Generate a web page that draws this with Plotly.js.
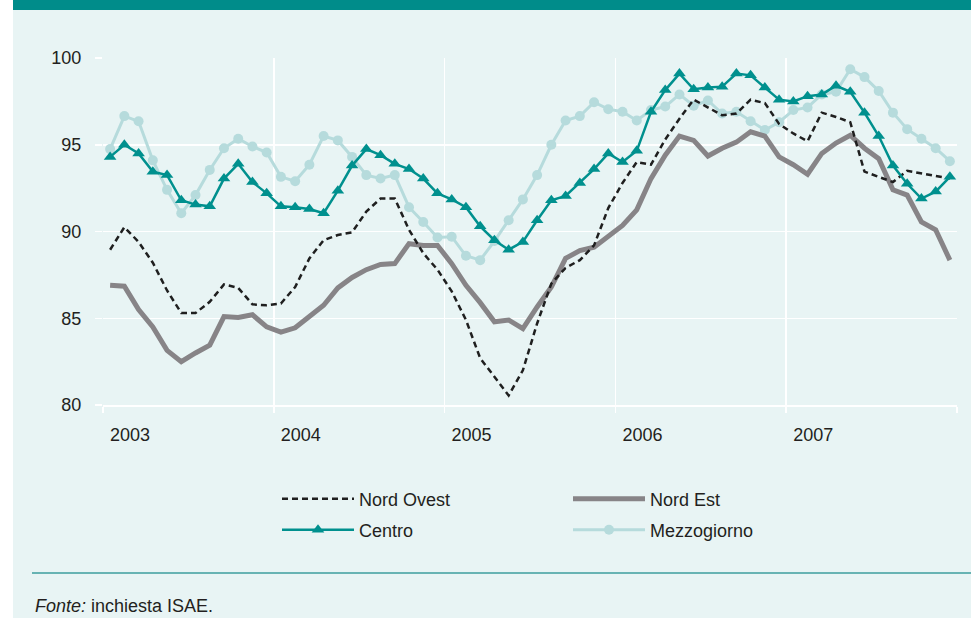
<!DOCTYPE html>
<html>
<head>
<meta charset="utf-8">
<script src="https://cdn.plot.ly/plotly-3.0.1.min.js"></script>
<style>
html,body{margin:0;padding:0;background:#ffffff;}
#chart{position:absolute;left:13px;top:0;width:958px;height:618px;}
</style>
</head>
<body>
<div id="chart"></div>
<script>
// ---- data (monthly, Jan 2003 - Dec 2007) ----
const years = ['2003','2004','2005','2006','2007'];
const months = [];
years.forEach(y => { for (let m = 1; m <= 12; m++) months.push(y + '-' + String(m).padStart(2,'0')); });

const nordOvest = [88.95,90.25,89.4,88.2,86.6,85.3,85.3,85.95,86.95,86.75,85.8,85.75,
                   85.85,86.8,88.45,89.5,89.8,89.95,91.15,91.9,91.9,90.1,88.75,87.8,
                   86.55,84.9,82.7,81.6,80.55,82.0,84.7,87.0,87.9,88.35,89.2,91.35,
                   92.8,94.0,93.85,95.3,96.5,97.6,97.15,96.7,96.8,97.6,97.4,96.2,
                   95.65,95.2,96.85,96.6,96.3,93.45,93.15,92.85,93.5,93.35,93.2,93.05];
const nordEst = [86.9,86.85,85.5,84.5,83.15,82.5,83.0,83.45,85.1,85.05,85.2,84.5,
                 84.2,84.45,85.1,85.75,86.75,87.35,87.8,88.1,88.15,89.3,89.2,89.2,
                 88.15,86.9,85.9,84.8,84.9,84.4,85.65,86.8,88.45,88.9,89.1,89.7,
                 90.35,91.25,93.05,94.4,95.5,95.25,94.35,94.8,95.15,95.75,95.5,94.3,
                 93.85,93.3,94.5,95.1,95.55,94.8,94.2,92.4,92.1,90.55,90.1,88.35];
const centro = [94.3,95.0,94.5,93.45,93.25,91.8,91.55,91.45,93.05,93.9,92.85,92.2,
                91.45,91.4,91.3,91.05,92.35,93.8,94.75,94.4,93.9,93.6,93.05,92.2,
                91.85,91.4,90.3,89.5,88.95,89.4,90.65,91.8,92.05,92.8,93.6,94.5,
                94.0,94.65,96.9,98.15,99.1,98.2,98.3,98.35,99.1,99.0,98.3,97.6,
                97.5,97.8,97.9,98.4,98.05,96.85,95.5,93.8,92.75,91.9,92.3,93.15];
const mezzogiorno = [94.75,96.65,96.35,94.1,92.4,91.05,92.1,93.55,94.8,95.35,94.9,94.55,
                     93.15,92.9,93.85,95.5,95.25,94.3,93.25,93.05,93.25,91.4,90.55,89.65,
                     89.7,88.6,88.35,89.45,90.65,91.85,93.25,95.0,96.4,96.65,97.45,97.05,
                     96.9,96.4,97.0,97.2,97.9,97.25,97.55,96.8,96.9,96.35,95.85,96.3,
                     97.0,97.15,97.9,98.05,99.35,98.9,98.1,96.85,95.9,95.35,94.8,94.05];
const yTicks = [80,85,90,95,100];

// ---- geometry helpers (page px -> paper) ----
const PL = 103, PR = 957, PT = 58, PB = 405;
const W = PR - PL, H = PB - PT;
const xp = px => (px - PL) / W;
const yp = py => (PB - py) / H;

const xIdx = months.map((m, i) => i);
const yearStarts = years.map((y, i) => i * 12 - 0.5);

const FONT = 'Liberation Sans, Arial, Helvetica, sans-serif';
const TXT = '#231f20';

const traces = [
  {x: xIdx, y: mezzogiorno, name: 'Mezzogiorno', type: 'scatter', mode: 'lines+markers',
   line: {color: '#b6dbdc', width: 3}, marker: {symbol: 'circle', size: 10, color: '#b6dbdc'},
   legend: 'legend2', legendrank: 2},
  {x: xIdx, y: nordEst, name: 'Nord Est', type: 'scatter', mode: 'lines',
   line: {color: '#878487', width: 5}, legend: 'legend', legendrank: 2},
  {x: xIdx, y: nordOvest, name: 'Nord Ovest', type: 'scatter', mode: 'lines',
   line: {color: '#1f1f1f', width: 2.5, dash: '6px,4px'}, legend: 'legend', legendrank: 1},
  {x: xIdx, y: centro, name: 'Centro', type: 'scatter', mode: 'lines+markers',
   line: {color: '#00908e', width: 2.5}, marker: {symbol: 'triangle-up', size: 11, color: '#00908e'},
   legend: 'legend2', legendrank: 1}
];

const legendBase = {
  orientation: 'h', xref: 'container', yref: 'container', xanchor: 'left', yanchor: 'middle',
  x: 264 / 958, bgcolor: 'rgba(0,0,0,0)', borderwidth: 0,
  font: {family: FONT, size: 18, color: TXT}, itemwidth: 72, entrywidth: 204, traceorder: 'normal'
};

const layout = {
  width: 958, height: 618,
  margin: {l: PL - 13, r: 971 - PR, t: PT, b: 618 - PB},
  paper_bgcolor: '#e8f4f4', plot_bgcolor: '#e8f4f4',
  font: {family: FONT, size: 18, color: TXT},
  showlegend: true,
  legend: Object.assign({}, legendBase, {y: 1 - 499 / 618}),
  legend2: Object.assign({}, legendBase, {y: 1 - 530 / 618}),
  xaxis: {
    range: [-0.5, 59.5], tickmode: 'array', tickvals: yearStarts.concat([59.5]),
    ticktext: years.concat(['']), ticklabelshift: 27, ticklabelstandoff: 6,
    showgrid: true, gridcolor: '#ffffff', gridwidth: 1.5,
    showline: true, linecolor: '#ffffff', linewidth: 2,
    ticks: 'outside', ticklen: 6, tickcolor: '#ffffff', tickwidth: 1.5,
    zeroline: false, tickfont: {family: FONT, size: 18, color: TXT}
  },
  yaxis: {
    range: [80, 100], tickmode: 'array', tickvals: yTicks,
    showgrid: true, gridcolor: '#ffffff', gridwidth: 1.5,
    showline: false, ticks: 'outside', ticklen: 7, tickcolor: '#ffffff', tickwidth: 1.5,
    zeroline: false, ticklabelstandoff: 10, tickfont: {family: FONT, size: 18, color: TXT}
  },
  shapes: [
    {type: 'rect', xref: 'paper', yref: 'paper', x0: xp(13), x1: xp(971), y0: yp(10), y1: yp(0),
     fillcolor: '#008c8a', line: {width: 0}, layer: 'above'},
    {type: 'line', xref: 'paper', yref: 'paper', x0: xp(32), x1: xp(971), y0: yp(573), y1: yp(573),
     line: {color: '#3d9e9e', width: 1.5}}
  ],
  annotations: [
    {xref: 'paper', yref: 'paper', x: xp(33), y: yp(606), xanchor: 'left', yanchor: 'middle',
     text: '<i>Fonte:</i> inchiesta ISAE.', showarrow: false,
     font: {family: FONT, size: 18, color: TXT}}
  ]
};

Plotly.newPlot('chart', traces, layout, {displayModeBar: false, staticPlot: true});
</script>
</body>
</html>
